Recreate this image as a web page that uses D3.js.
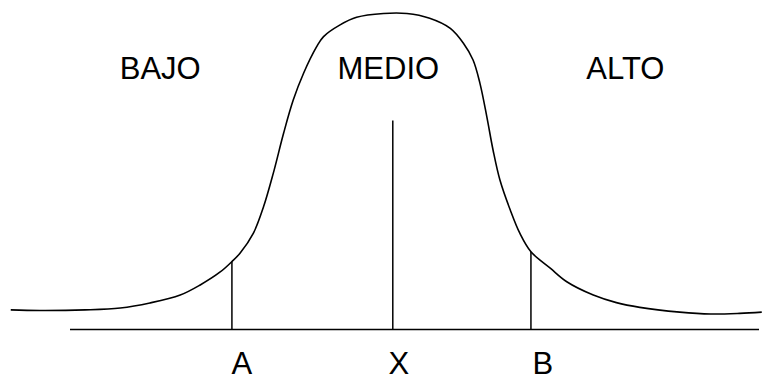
<!DOCTYPE html>
<html>
<head>
<meta charset="utf-8">
<script src="https://cdn.jsdelivr.net/npm/d3@7"></script>
<style>
	html, body { margin: 0; padding: 0; background: #fff; }
	svg { display: block; }
</style>
</head>
<body>
<div id="chart"></div>
<script>
// curve (x: 0..100 along the axis, y: 0..100 height)
const curveX = [-8.6, -4.4, 2.2, 7.3, 11.6, 16.0, 18.9, 21.8, 23.5, 24.7, 26.6, 28.1, 29.5, 31.0,
	32.4, 33.9, 35.8, 36.8, 39.2, 41.6, 45.5, 48.9, 52.2, 55.2, 57.1, 58.5, 59.5, 60.5, 61.4,
	62.4, 63.9, 65.3, 66.9, 69.7, 72.1, 75.95, 79.3, 82.7, 88.5, 93.0, 97.2, 100.4];
const curveY = [6.2, 6.0, 6.2, 6.8, 8.4, 10.9, 14.1, 18.2, 21.5, 24.2, 30.4, 38.9, 49.4, 62.1,
	72.6, 81.1, 89.5, 92.7, 96.4, 98.8, 100, 100, 98.5, 95.3, 90.6, 85.3, 77.9, 67.3, 56.8,
	47.3, 37.8, 30.4, 24.6, 19.4, 15.1, 10.9, 8.5, 7.0, 5.5, 4.9, 5.1, 5.5];

// markers on the axis
const markerNames = ["A", "X", "B"];
const markerX = [23.5, 46.85, 66.9];
const markerTop = [21.5, 66.1, 24.6];

// zones above the curve
const zoneNames = ["BAJO", "MEDIO", "ALTO"];
const zoneX = [13.1, 46.2, 80.6];
const zoneY = 79.4;

const width = 762;
const height = 376;

const svg = d3.select("#chart")
	.append("svg")
	.attr("width", width)
	.attr("height", height);

const x = d3.scaleLinear().domain([0, 100]).range([70, 759]);
const y = d3.scaleLinear().domain([0, 100]).range([329.5, 13.5]);

const font = "'Liberation Sans', Arial, sans-serif";

// axis line
svg.append("line")
	.attr("x1", x(0)).attr("x2", x(100))
	.attr("y1", y(0)).attr("y2", y(0))
	.attr("stroke", "#000")
	.attr("stroke-width", 1.5);

// vertical markers
svg.selectAll(".marker")
	.data(markerNames)
	.join("line")
	.attr("class", "marker")
	.attr("x1", (d, i) => x(markerX[i]))
	.attr("x2", (d, i) => x(markerX[i]))
	.attr("y1", y(0))
	.attr("y2", (d, i) => y(markerTop[i]))
	.attr("stroke", "#000")
	.attr("stroke-width", 1.5);

// the curve
const points = curveX.map((v, i) => [v, curveY[i]]);
const line = d3.line()
	.x(d => x(d[0]))
	.y(d => y(d[1]))
	.curve(d3.curveCatmullRom.alpha(0.5));

svg.append("path")
	.datum(points)
	.attr("d", line)
	.attr("fill", "none")
	.attr("stroke", "#000")
	.attr("stroke-width", 1.6);

// zone labels
svg.selectAll(".zone")
	.data(zoneNames)
	.join("text")
	.attr("class", "zone")
	.attr("x", (d, i) => x(zoneX[i]))
	.attr("y", y(zoneY))
	.attr("text-anchor", "middle")
	.style("font-family", font)
	.style("font-size", "31px")
	.text(d => d);

// marker labels, sitting a little to the right of each line
const labelShift = [10, 6, 12];
svg.selectAll(".markerLabel")
	.data(markerNames)
	.join("text")
	.attr("class", "markerLabel")
	.attr("x", (d, i) => x(markerX[i]) + labelShift[i])
	.attr("y", 374)
	.attr("text-anchor", "middle")
	.style("font-family", font)
	.style("font-size", "31px")
	.text(d => d);
</script>
</body>
</html>
